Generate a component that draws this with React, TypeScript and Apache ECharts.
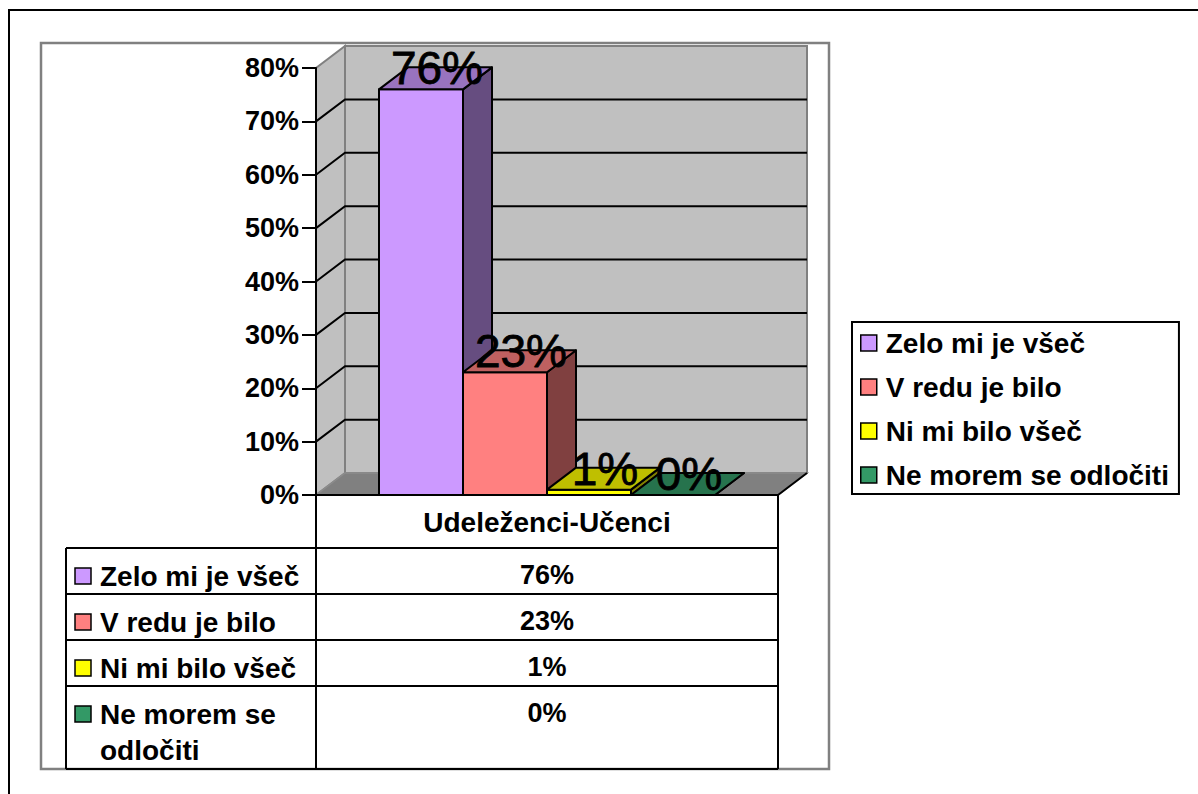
import React, { useEffect, useRef } from "react";
import * as echarts from "echarts";

const categories = ["Udeleženci-Učenci"];
const seriesNames = ["Zelo mi je všeč", "V redu je bilo", "Ni mi bilo všeč", "Ne morem se odločiti"];
const tableRowLabels = ["Zelo mi je všeč", "V redu je bilo", "Ni mi bilo všeč", "Ne morem se\nodločiti"];
const zeloMiJeVsec = [76];
const vReduJeBilo = [23];
const niMiBiloVsec = [1];
const neMoremSeOdlociti = [0];
const yTicks = [0, 10, 20, 30, 40, 50, 60, 70, 80];

const seriesValues = [zeloMiJeVsec, vReduJeBilo, niMiBiloVsec, neMoremSeOdlociti];
const COLORS = ["#CC99FF", "#FF8080", "#FFFF00", "#339966"];
const FONT = "'Liberation Sans', Arial, Helvetica, sans-serif";
const DX = 29;
const DY = -22;
const GAP = 1.5;

function shade(hex: string, f: number) {
  const n = parseInt(hex.slice(1), 16);
  const r = Math.round(((n >> 16) & 255) * f);
  const g = Math.round(((n >> 8) & 255) * f);
  const b = Math.round((n & 255) * f);
  return "rgb(" + r + "," + g + "," + b + ")";
}

function backgroundRender(params: any, api: any) {
  const base = api.coord([0, yTicks[0]]);
  const top = api.coord([0, yTicks[yTicks.length - 1]]);
  const bw = api.size([1, 0])[0];
  const xl = base[0] - bw / 2;
  const xr = base[0] + bw / 2;
  const y0 = base[1];
  const y8 = top[1];
  const children: any[] = [];
  children.push({
    type: "polygon",
    shape: { points: [[xl + DX, y0 + DY], [xr + DX, y0 + DY], [xr + DX, y8 + DY], [xl + DX, y8 + DY]] },
    style: { fill: "#C0C0C0", stroke: "#808080", lineWidth: 2 },
  });
  children.push({
    type: "polygon",
    shape: { points: [[xl, y0], [xl + DX, y0 + DY], [xl + DX, y8 + DY], [xl, y8]] },
    style: { fill: "#C0C0C0", stroke: "#808080", lineWidth: 2 },
  });
  yTicks.forEach((t, k) => {
    if (k === 0 || k === yTicks.length - 1) return;
    const y = api.coord([0, t])[1];
    children.push({
      type: "polyline",
      shape: { points: [[xl, y], [xl + DX, y + DY], [xr + DX, y + DY]] },
      style: { stroke: "#000", lineWidth: 2, fill: null },
    });
  });
  children.push({
    type: "polygon",
    shape: { points: [[xl, y0], [xr, y0], [xr + DX, y0 + DY], [xl + DX, y0 + DY]] },
    style: { fill: "#808080", stroke: "#8c8c8c", lineWidth: 1.5 },
  });
  children.push({
    type: "line",
    shape: { x1: xr, y1: y0, x2: xr + DX, y2: y0 + DY },
    style: { stroke: "#000", lineWidth: 2 },
  });
  return { type: "group", children };
}

function makeBarRender(i: number) {
  return (params: any, api: any) => {
    const cat = api.value(0);
    const v = api.value(1);
    const base = api.coord([cat, 0]);
    const tp = api.coord([cat, v]);
    const bw = api.size([1, 0])[0];
    const n = seriesNames.length;
    const barW = bw / (n + GAP);
    const x0 = base[0] - bw / 2 + (barW * GAP) / 2 + i * barW;
    const x1 = x0 + barW;
    const yb = base[1];
    const yt = tp[1];
    const c = COLORS[i];
    const stroke = { stroke: "#000", lineWidth: 2, lineJoin: "round" };
    const children: any[] = [];
    children.push({
      type: "polygon",
      shape: { points: [[x1, yt], [x1 + DX, yt + DY], [x1 + DX, yb + DY], [x1, yb]] },
      style: { fill: shade(c, 0.5), ...stroke },
    });
    if (yb - yt > 0.5) {
      children.push({
        type: "polygon",
        shape: { points: [[x0, yt], [x1, yt], [x1, yb], [x0, yb]] },
        style: { fill: c, ...stroke },
      });
    }
    children.push({
      type: "polygon",
      shape: { points: [[x0, yt], [x1, yt], [x1 + DX, yt + DY], [x0 + DX, yt + DY]] },
      style: { fill: shade(c, 0.75), ...stroke },
    });
    children.push({
      type: "text",
      style: {
        text: v + "%",
        x: x0 + barW / 2 + 16,
        y: yt - 21,
        align: "center",
        verticalAlign: "middle",
        fontSize: 46,
        fontFamily: FONT,
        fill: "#000",
        stroke: "#000",
        lineWidth: 0.8,
      },
    });
    return { type: "group", children };
  };
}

// table layout (positions only)
const TBL_LEFT = 66;
const TBL_MID = 316;
const TBL_RIGHT = 778;
const TBL_TOP = 495;
const ROW_TOPS = [548, 594, 640, 686];
const TBL_BOTTOM = 769;

function buildGraphic() {
  const els: any[] = [];
  els.push({
    type: "rect",
    z: 0,
    shape: { x: 9, y: 10, width: 1300, height: 900 },
    style: { fill: "none", stroke: "#000", lineWidth: 2 },
  });
  els.push({
    type: "rect",
    z: 0,
    shape: { x: 41, y: 43, width: 788, height: 726 },
    style: { fill: "none", stroke: "#808080", lineWidth: 2.5 },
  });
  const ln = (x1: number, y1: number, x2: number, y2: number) => ({
    type: "line",
    z: 10,
    shape: { x1, y1, x2, y2 },
    style: { stroke: "#000", lineWidth: 2 },
  });
  els.push(ln(TBL_MID, TBL_TOP, TBL_RIGHT, TBL_TOP));
  ROW_TOPS.forEach((y) => els.push(ln(TBL_LEFT, y, TBL_RIGHT, y)));
  els.push(ln(TBL_LEFT, TBL_BOTTOM, TBL_RIGHT, TBL_BOTTOM));
  els.push(ln(TBL_LEFT, ROW_TOPS[0], TBL_LEFT, TBL_BOTTOM));
  els.push(ln(TBL_MID, TBL_TOP, TBL_MID, TBL_BOTTOM));
  els.push(ln(TBL_RIGHT, TBL_TOP, TBL_RIGHT, TBL_BOTTOM));
  tableRowLabels.forEach((label, i) => {
    const cy = ROW_TOPS[i] + 28;
    els.push({
      type: "rect",
      z: 10,
      shape: { x: 75, y: cy - 8, width: 16, height: 16 },
      style: { fill: COLORS[i], stroke: "#000", lineWidth: 1.5 },
    });
    label.split("\n").forEach((part, j) => {
      els.push({
        type: "text",
        z: 10,
        style: {
          text: part,
          x: 100,
          y: cy + j * 36,
          align: "left",
          verticalAlign: "middle",
          fontSize: 28,
          fontWeight: "bold",
          fontFamily: FONT,
          fill: "#000",
        },
      });
    });
    els.push({
      type: "text",
      z: 10,
      style: {
        text: seriesValues[i][0] + "%",
        x: (TBL_MID + TBL_RIGHT) / 2,
        y: ROW_TOPS[i] + 27,
        align: "center",
        verticalAlign: "middle",
        fontSize: 27,
        fontWeight: "bold",
        fontFamily: FONT,
        fill: "#000",
      },
    });
  });
  return els;
}

export default function App() {
  const ref = useRef<HTMLDivElement>(null);
  useEffect(() => {
    if (!ref.current) return;
    const chart = echarts.init(ref.current, null, { renderer: "svg" });
    const series: any[] = [
      {
        type: "custom",
        name: "bg",
        silent: true,
        z: 1,
        clip: false,
        renderItem: backgroundRender,
        data: [[0, 0]],
      },
    ];
    seriesNames.forEach((name, i) => {
      series.push({
        type: "custom",
        name,
        z: 2 + i,
        clip: false,
        itemStyle: { color: COLORS[i] },
        renderItem: makeBarRender(i),
        data: seriesValues[i].map((v, k) => [k, v]),
      });
    });
    chart.setOption({
      animation: false,
      backgroundColor: "#fff",
      grid: { left: 316, top: 68, width: 462, height: 427 },
      xAxis: {
        type: "category",
        data: categories,
        axisLine: { show: false },
        axisTick: { show: false },
        splitLine: { show: false },
        axisLabel: {
          margin: 13,
          fontSize: 28,
          fontWeight: "bold",
          fontFamily: FONT,
          color: "#000",
        },
      },
      yAxis: {
        type: "value",
        min: 0,
        max: 80,
        interval: 10,
        z: 10,
        axisLine: { show: true, lineStyle: { color: "#000", width: 2 } },
        axisTick: { show: true, length: 14, lineStyle: { color: "#000", width: 2 } },
        splitLine: { show: false },
        axisLabel: {
          formatter: "{value}%",
          margin: 17,
          fontSize: 27,
          fontWeight: "bold",
          fontFamily: FONT,
          color: "#000",
        },
      },
      legend: {
        data: seriesNames,
        orient: "vertical",
        left: 852,
        top: 322,
        icon: "rect",
        itemWidth: 16,
        itemHeight: 16,
        itemGap: 16,
        padding: [7, 10, 5, 8],
        borderColor: "#000",
        borderWidth: 2,
        backgroundColor: "#fff",
        selectedMode: false,
        itemStyle: { borderColor: "#000", borderWidth: 1.5 },
        textStyle: {
          fontSize: 28,
          fontWeight: "bold",
          fontFamily: FONT,
          color: "#000",
          padding: [0, 0, 0, 4],
        },
      },
      graphic: { elements: buildGraphic() },
      series,
    });
    return () => chart.dispose();
  }, []);
  return (
    <div
      ref={ref}
      style={{ position: "fixed", left: 0, top: 0, width: "1198px", height: "794px", background: "#fff" }}
    />
  );
}
